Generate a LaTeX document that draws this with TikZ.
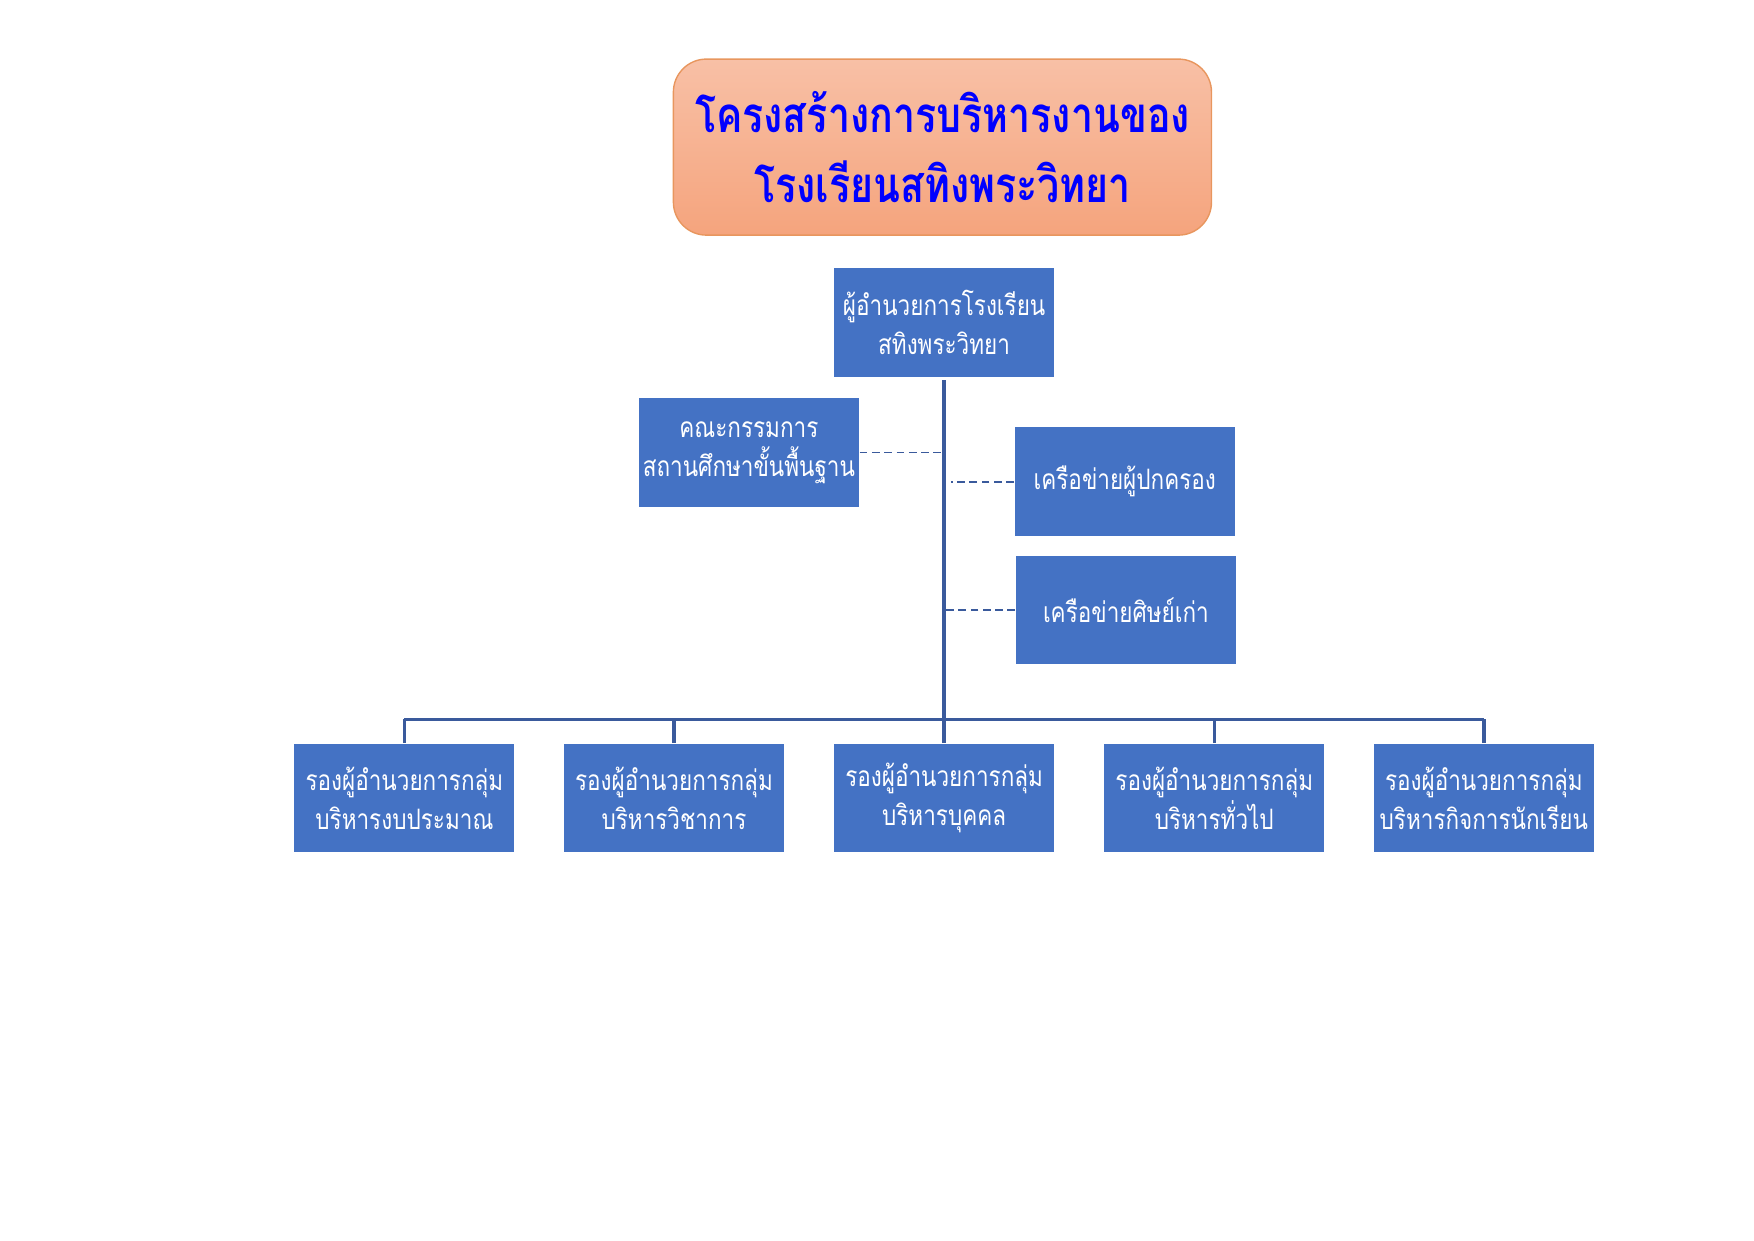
\documentclass[tikz,border=0pt]{standalone}
\usepackage{fontspec}
\newfontfamily\thaifont[Script=Thai,FakeStretch=0.8]{Loma}
\usetikzlibrary{positioning}
\definecolor{boxblue}{HTML}{4472C4}
\definecolor{lineblue}{HTML}{3A5A9C}
\definecolor{titletop}{HTML}{F8C0A6}
\definecolor{titlebot}{HTML}{F5A47D}
\definecolor{titleline}{HTML}{E8965E}
\tikzset{
  unit/.style={fill=boxblue,text=white,minimum width=2.2cm,minimum height=1.085cm,
    text width=2.18cm,inner sep=0pt,align=center,font=\thaifont\fontsize{8}{11.2}\selectfont},
  link/.style={lineblue,line width=1pt},
  netlink/.style={lineblue,dash pattern=on 2.2pt off 1.3pt,line width=0.55pt},
}
\begin{document}
\begin{tikzpicture}[x=0.011186cm,y=-0.011186cm]
\useasboundingbox (0,0) rectangle (1568,1109);
% title
\node[rounded corners=0.33cm,draw=titleline,top color=titletop,bottom color=titlebot,
  minimum width=5.38cm,minimum height=1.76cm,align=center,text=blue,
  font=\thaifont\bfseries\fontsize{14}{20}\selectfont] (title) at (842.5,131.5)
  {โครงสร้างการบริหารงานของ\\โรงเรียนสทิงพระวิทยา};
% director and networks
\node[unit] (dir) at (844,288.5) {ผู้อำนวยการโรงเรียน\\สทิงพระวิทยา};
\node[unit] (comm) at (669.5,404.5) {คณะกรรมการ\\สถานศึกษาขั้นพื้นฐาน};
\node[unit] (parent) at (1005.5,430.5) {เครือข่ายผู้ปกครอง};
\node[unit] (alumni) at (1006.5,545.5) {เครือข่ายศิษย์เก่า};
\coordinate (top) at (844,340);
\coordinate (hub) at (844,643);
\draw[link] (top) -- (hub);
\draw[netlink] (comm.east) -- (844,404.5);
\draw[netlink] (parent.west) -- (850,430.5);
\draw[netlink] (alumni.west) -- (846,545.5);
% deputies
\foreach \x/\n/\t in {361.5/budget/บริหารงบประมาณ,602.5/academic/บริหารวิชาการ,
  844/staff/บริหารบุคคล,1085.5/general/บริหารทั่วไป,1326.5/student/บริหารกิจการนักเรียน}{
  \node[unit] (\n) at (\x,713.5) {รองผู้อำนวยการกลุ่ม\\\t};
  \draw[link] (\n.north) -- (\x,643);
}
\draw[link] (budget.north |- hub) -- (student.north |- hub);
\end{tikzpicture}
\end{document}
